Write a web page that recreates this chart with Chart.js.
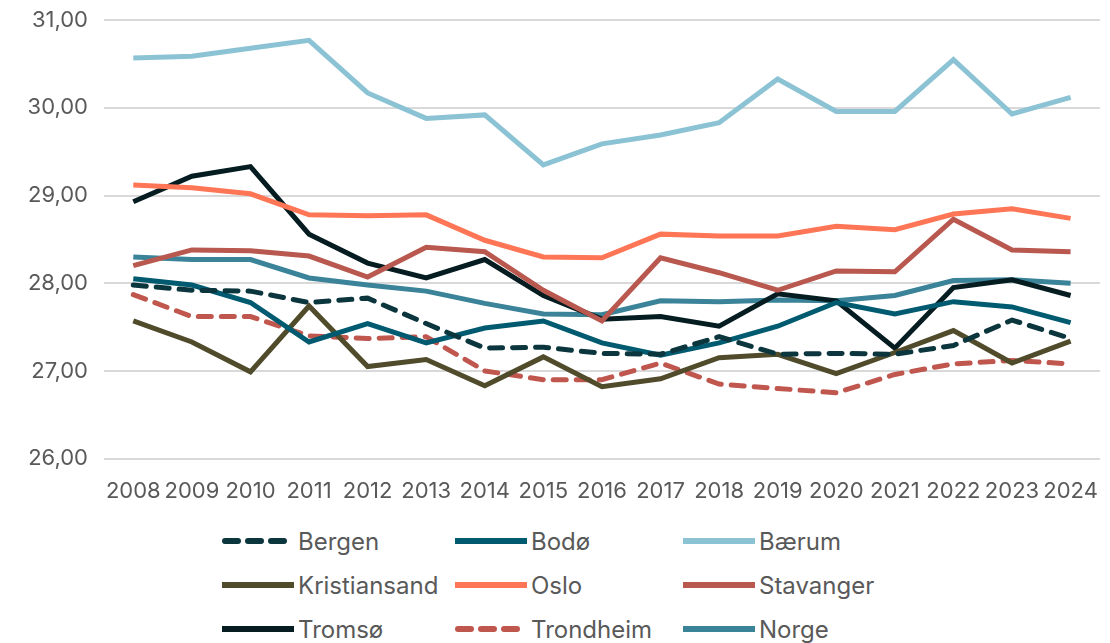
<!DOCTYPE html>
<html>
<head>
<meta charset="utf-8">
<script src="https://cdn.jsdelivr.net/npm/chart.js@4"></script>
<style>
  body { margin: 0; background: #fff; font-family: Inter, sans-serif; overflow: hidden; }
  #wrap { position: relative; top: -9px; width: 1110px; height: 526px; }
  #legend {
    position: absolute; left: 222px; top: 523px;
    display: grid; grid-template-columns: 233px 228px 230px;
    row-gap: 8px; color: #595959; font-size: 24px;
  }
  .item { display: flex; align-items: center; height: 36px; }
  .item svg { margin-right: 4px; }
</style>
</head>
<body>
<div id="wrap"><canvas id="lineChart"></canvas></div>
<div id="legend"></div>
<script>
const years = ['2008','2009','2010','2011','2012','2013','2014','2015','2016','2017','2018','2019','2020','2021','2022','2023','2024'];

const bergen       = [27.98, 27.92, 27.91, 27.78, 27.83, 27.54, 27.26, 27.27, 27.20, 27.19, 27.39, 27.19, 27.20, 27.19, 27.29, 27.58, 27.37];
const bodo         = [28.05, 27.98, 27.78, 27.33, 27.54, 27.32, 27.49, 27.57, 27.32, 27.18, 27.32, 27.51, 27.78, 27.65, 27.79, 27.73, 27.55];
const baerum       = [30.57, 30.59, 30.68, 30.77, 30.17, 29.88, 29.92, 29.35, 29.59, 29.69, 29.83, 30.33, 29.96, 29.96, 30.55, 29.93, 30.12];
const kristiansand = [27.57, 27.33, 26.99, 27.74, 27.05, 27.13, 26.83, 27.16, 26.82, 26.91, 27.15, 27.19, 26.97, 27.21, 27.46, 27.09, 27.34];
const oslo         = [29.12, 29.09, 29.02, 28.78, 28.77, 28.78, 28.49, 28.30, 28.29, 28.56, 28.54, 28.54, 28.65, 28.61, 28.79, 28.85, 28.74];
const stavanger    = [28.20, 28.38, 28.37, 28.31, 28.07, 28.41, 28.36, 27.92, 27.57, 28.29, 28.12, 27.92, 28.14, 28.13, 28.73, 28.38, 28.36];
const tromso       = [28.93, 29.22, 29.33, 28.56, 28.23, 28.06, 28.27, 27.86, 27.59, 27.62, 27.51, 27.88, 27.80, 27.26, 27.95, 28.04, 27.86];
const trondheim    = [27.87, 27.62, 27.62, 27.40, 27.37, 27.39, 27.00, 26.90, 26.90, 27.09, 26.85, 26.80, 26.75, 26.96, 27.08, 27.12, 27.08];
const norge        = [28.30, 28.27, 28.27, 28.06, 27.98, 27.91, 27.77, 27.65, 27.64, 27.80, 27.79, 27.81, 27.80, 27.86, 28.03, 28.04, 28.00];

const yTicks = [26, 27, 28, 29, 30, 31];

function line(label, data, color, dashed) {
  return {
    label: label,
    data: data,
    borderColor: color,
    backgroundColor: color,
    borderWidth: 5,
    borderDash: dashed ? [13, 10] : [],
    borderCapStyle: dashed ? 'round' : 'butt',
    pointRadius: 0,
    pointHoverRadius: 0,
    tension: 0,
    fill: false
  };
}

// order in legend (also draw order)
const datasets = [
  line('Bergen', bergen, '#0c363d', true),
  line('Bodø', bodo, '#005a70', false),
  line('Bærum', baerum, '#8bc3d5', false),
  line('Kristiansand', kristiansand, '#4f4b2b', false),
  line('Oslo', oslo, '#ff7657', false),
  line('Stavanger', stavanger, '#b8584e', false),
  line('Tromsø', tromso, '#051c21', false),
  line('Trondheim', trondheim, '#c0574e', true),
  line('Norge', norge, '#3a8399', false)
];

const ctx = document.getElementById('lineChart').getContext('2d');
const myChart = new Chart(ctx, {
  type: 'line',
  data: { labels: years, datasets: datasets },
  options: {
    responsive: true,
    maintainAspectRatio: false,
    animation: false,
    layout: { padding: { top: 0, right: 4, left: 0, bottom: 0 } },
    plugins: { legend: { display: false }, tooltip: { enabled: false } },
    scales: {
      x: {
        offset: true,
        grid: { display: false },
        border: { display: false },
        ticks: { color: '#595959', font: { family: 'Inter', size: 22 }, padding: 12, maxRotation: 0, autoSkip: false }
      },
      y: {
        min: 26,
        max: 31,
        afterBuildTicks: s => { s.ticks = yTicks.map(v => ({ value: v })); },
        afterFit: s => { s.width = 104; },
        grid: { color: '#d9d9d9', lineWidth: 2, drawTicks: false },
        border: { display: false },
        ticks: {
          color: '#595959',
          font: { family: 'Inter', size: 22 },
          padding: 16,
          callback: v => v.toFixed(2).replace('.', ',')
        }
      }
    }
  }
});

// legend in 3 columns
const legend = document.getElementById('legend');
datasets.forEach(ds => {
  const item = document.createElement('div');
  item.className = 'item';
  const dash = ds.borderDash.length ? 'stroke-dasharray="13 10" stroke-linecap="round"' : '';
  item.innerHTML = '<svg width="72" height="10"><line x1="' + (dash ? 3 : 0) + '" y1="5" x2="72" y2="5" stroke="' + ds.borderColor +
    '" stroke-width="6" ' + dash + '/></svg><span>' + ds.label + '</span>';
  legend.appendChild(item);
});
</script>
</body>
</html>
